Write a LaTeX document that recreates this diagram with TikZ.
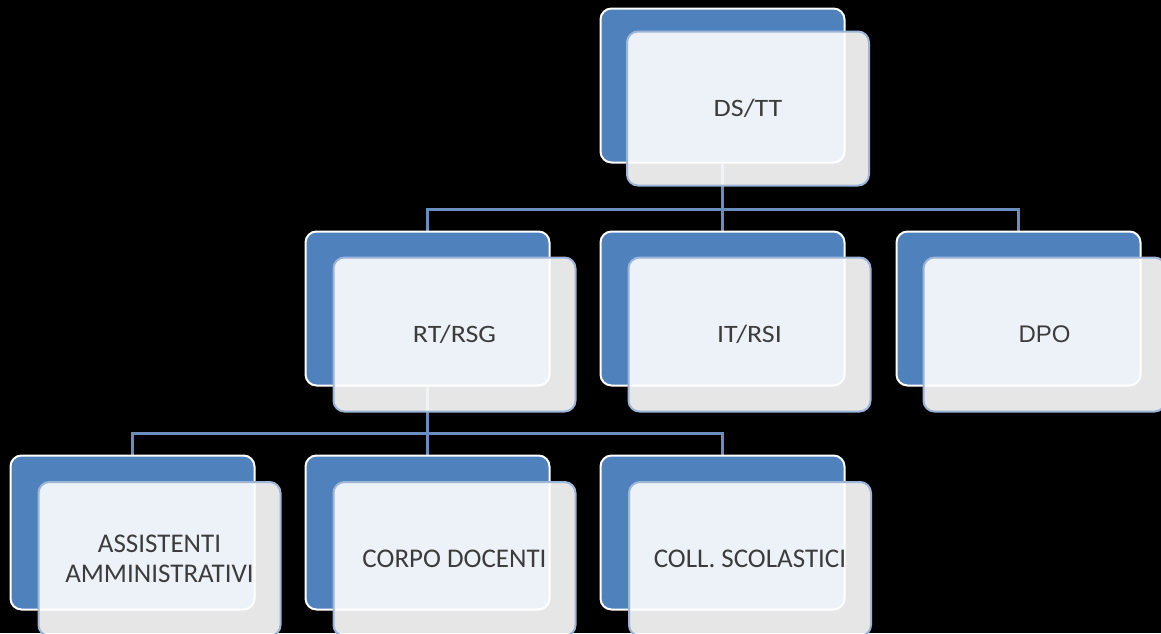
\documentclass[tikz,border=0pt]{standalone}
\usepackage{fontspec}
\setmainfont{Carlito}
\newfontfamily\widefont[FakeStretch=1.12]{Carlito}
\newfontfamily\arialfont{Liberation Sans}
\definecolor{boxblue}{HTML}{4F81BD}
\definecolor{frontedge}{HTML}{9DB5D8}
\definecolor{linkc}{HTML}{6A8DC0}
\definecolor{txt}{HTML}{3C3C3C}
\pgfdeclarelayer{bg}
\pgfdeclarelayer{links}
\pgfsetlayers{bg,links,main}
\begin{document}
\begin{tikzpicture}[x=1pt,y=-1pt,
  backbox/.style={draw=white, line width=2pt, fill=boxblue, rounded corners=11pt,
    minimum width=244pt, minimum height=154pt, inner sep=0pt},
  frontbox/.style={draw=frontedge, line width=2pt, fill=white, fill opacity=0.9,
    text opacity=1, rounded corners=11pt, minimum width=242pt, minimum height=154pt,
    inner sep=0pt, text=txt, align=center},
  upper/.style={frontbox, font=\widefont\fontsize{25}{30}\selectfont},
  lower/.style={frontbox, font=\fontsize{27}{30}\selectfont},
  link/.style={draw=linkc, line width=3pt}]
\clip (0,0) rectangle (1161,633);
\begin{pgfonlayer}{bg}
\fill[black] (0,0) rectangle (1161,633);
\end{pgfonlayer}

% level 1
\node[backbox] (ds-b) at (722.5,85.5) {};
\node[upper] (ds) at (748,108.5) {DS/TT};
% level 2
\node[backbox] (rt-b) at (427.5,308.5) {};
\node[upper] (rt) at (454.5,334.5) {RT/RSG};
\node[backbox] (it-b) at (722.5,308.5) {};
\node[upper] (it) at (749.5,334.5) {IT/RSI};
\node[backbox] (dpo-b) at (1018.5,308.5) {};
\node[frontbox, font=\arialfont\fontsize{24}{28}\selectfont] (dpo) at (1044.5,334.5) {DPO};
% level 3
\node[backbox] (as-b) at (132.5,532.5) {};
\node[lower] (as) at (159.5,559) {ASSISTENTI\\AMMINISTRATIVI};
\node[backbox] (cd-b) at (427.5,532.5) {};
\node[lower] (cd) at (454.5,559) {CORPO DOCENTI};
\node[backbox] (cs-b) at (722.5,532.5) {};
\node[lower] (cs) at (750,559) {COLL. SCOLASTICI};

\begin{pgfonlayer}{links}
\coordinate (bus1) at (722.5,209);
\coordinate (bus2) at (427.5,433);
\draw[link] (ds-b.south) -- (bus1);
\draw[link] (rt-b.north) |- (bus1);
\draw[link] (it-b.north) -- (bus1);
\draw[link] (dpo-b.north) |- (bus1);
\draw[link] (rt-b.south) -- (bus2);
\draw[link] (as-b.north) |- (bus2);
\draw[link] (cd-b.north) -- (bus2);
\draw[link] (cs-b.north) |- (bus2);
\end{pgfonlayer}
\end{tikzpicture}
\end{document}
